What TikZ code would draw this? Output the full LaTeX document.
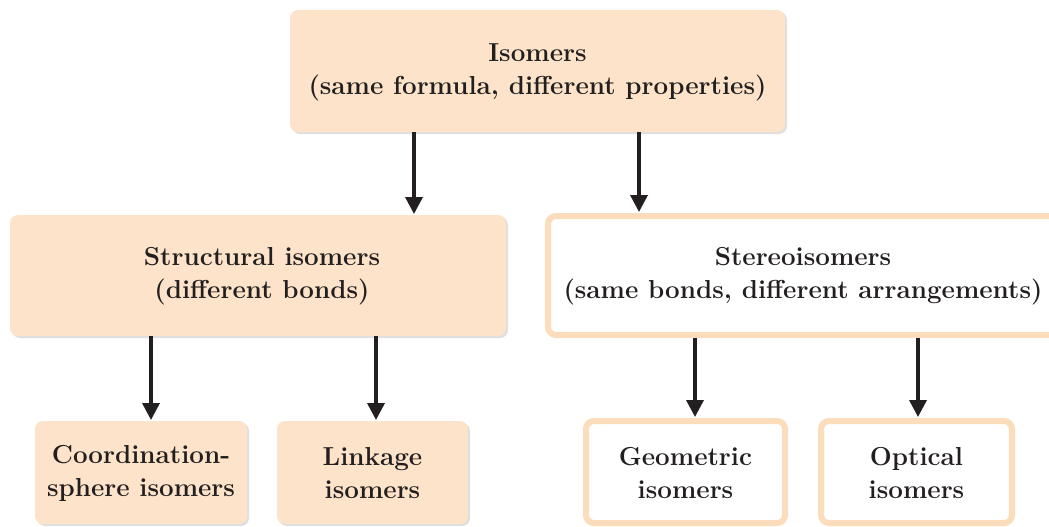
\documentclass[tikz,border=0pt]{standalone}
\usepackage{fontspec}
\usetikzlibrary{arrows.meta,shadows}
\definecolor{peach}{HTML}{FDE3C9}
\definecolor{peachline}{HTML}{FBDCBB}
\definecolor{ink}{HTML}{231F20}
\begin{document}
\begin{tikzpicture}[x=1pt,y=-1pt,
  txt/.style={font=\bfseries\fontsize{26}{33}\selectfont, text=ink, align=center},
  fillbox/.style={fill=peach, rounded corners=8pt, drop shadow={opacity=0.25, shadow xshift=2pt, shadow yshift=-2pt}},
  linebox/.style={fill=white, draw=peachline, line width=6pt, rounded corners=8pt, drop shadow={opacity=0.25, shadow xshift=2pt, shadow yshift=-2pt}},
  arr/.style={draw=ink, line width=3.5pt, -{Triangle[length=17pt,width=17pt]}}]
\useasboundingbox (0,0) rectangle (1049,527);
\begin{scope}
\clip (0,0) rectangle (1049,527);
% boxes
\path[fillbox] (290,10) rectangle (785,132);
\node[txt] (top) at (537.5,72) {Isomers\\(same formula, different properties)};
\path[fillbox] (10,215) rectangle (506,336);
\node[txt] (struct) at (262,276) {Structural isomers\\(different bonds)};
\path[linebox] (548,216) rectangle (1058,335);
\node[txt] (stereo) at (803,276) {Stereoisomers\\(same bonds, different arrangements)};
\path[fillbox] (35,421) rectangle (247,524);
\node[txt] (coord) at (141,473) {Coordination-\\sphere isomers};
\path[fillbox] (277,421) rectangle (468,524);
\node[txt] (link) at (372.5,473) {Linkage\\isomers};
\path[linebox] (586,421) rectangle (785,523);
\node[txt] (geo) at (685.5,473) {Geometric\\isomers};
\path[linebox] (821,421) rectangle (1012,523);
\node[txt] (opt) at (916.5,473) {Optical\\isomers};
% named anchors on box edges
\coordinate (topb) at (537.5,132);
\coordinate (structt) at (258,214);
\coordinate (structb) at (258,336);
\coordinate (stereot) at (803,212);
\coordinate (stereob) at (803,338);
\coordinate (coordt) at (141,420);
\coordinate (linkt) at (372.5,420);
\coordinate (geot) at (685.5,417);
\coordinate (optt) at (916.5,417);
% arrows
\draw[arr] (topb -| 414,0) -- (structt -| 414,0);
\draw[arr] (topb -| 639,0) -- (stereot -| 639,0);
\draw[arr] (structb -| 151,0) -- (coordt -| 151,0);
\draw[arr] (structb -| 376,0) -- (linkt -| 376,0);
\draw[arr] (stereob -| 695,0) -- (geot -| 695,0);
\draw[arr] (stereob -| 918,0) -- (optt -| 918,0);
\end{scope}
\end{tikzpicture}
\end{document}
